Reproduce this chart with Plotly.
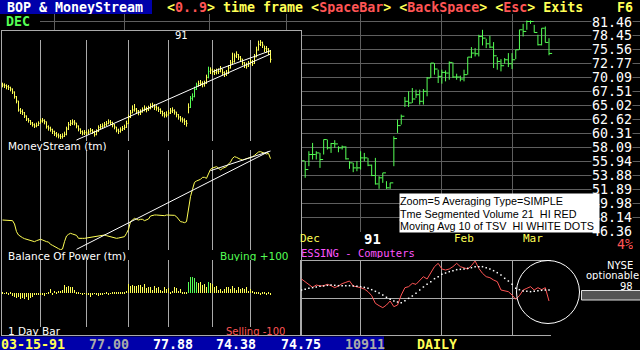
import math
import pandas as pd
import plotly.graph_objects as go

W, H = 640, 350

# ---------------- calendar (trading days) ----------------
HOLIDAYS = ["1990-11-22", "1990-12-25", "1991-01-01", "1991-02-18"]
trade_days = [d for d in pd.bdate_range("1990-09-04", "1991-03-15")
              if d.strftime("%Y-%m-%d") not in HOLIDAYS]
N = len(trade_days)
day_idx = list(range(N))
month_starts = [i for i in day_idx if i == 0 or trade_days[i].month != trade_days[i - 1].month]
def month_start(y, m):
    return next(i for i in day_idx if trade_days[i].year == y and trade_days[i].month == m)

# ---------------- main price chart (Dec 7 1990 .. Mar 15 1991) ----------------
price_start = N - 68
price_high = [58.5, 55.94, 57.46, 58.76, 57.46, 57.20, 59.29, 59.29, 58.76, 59.19, 58.24, 58.35, 58.24,
              55.94, 55.69, 55.94, 57.46, 57.20, 56.44, 55.44, 56.44, 53.73, 54.21, 53.01, 52.77, 59.82,
              62.56, 63.41, 66.49, 67.51, 68.11, 67.81, 67.81, 67.93, 70.16, 72.84, 72.84, 71.55, 71.55,
              71.42, 73.16, 72.97, 70.78, 70.41, 71.55, 74.02, 76.03, 75.83, 78.60, 79.66, 77.76, 78.39,
              77.07, 74.02, 73.62, 73.82, 74.82, 74.82, 75.49, 79.66, 80.95, 81.68, 81.68, 80.73, 78.60,
              80.00, 80.37, 77.88]
price_low = [55.94, 53.50, 55.19, 56.19, 56.19, 54.94, 56.95, 57.72, 57.20, 57.98, 57.30, 57.72, 56.19,
             54.80, 54.31, 54.45, 54.70, 55.94, 55.19, 53.73, 52.53, 51.93, 52.77, 51.93, 51.93, 55.19,
             60.36, 61.73, 64.73, 64.73, 65.43, 66.31, 65.14, 65.14, 66.61, 69.97, 70.60, 69.03, 68.91,
             69.34, 69.65, 69.97, 69.65, 69.34, 69.34, 70.60, 73.82, 74.15, 74.15, 76.38, 75.83, 75.83,
             71.87, 71.55, 71.23, 72.71, 72.06, 71.68, 73.62, 75.49, 78.25, 79.66, 80.95, 79.09, 76.38,
             76.38, 77.00, 74.38]
price_close = [56.00, 54.70, 56.95, 56.95, 57.20, 56.19, 59.29, 57.98, 58.66, 58.60, 57.98, 58.13, 56.29,
               55.69, 54.94, 54.94, 56.44, 56.44, 55.34, 53.83, 52.62, 53.49, 54.21, 52.07, 52.77, 59.45,
               61.56, 63.13, 65.72, 65.43, 66.13, 66.90, 65.72, 67.51, 69.97, 72.84, 71.68, 70.28, 71.04,
               70.91, 72.97, 70.16, 70.16, 69.78, 70.60, 74.02, 74.82, 74.69, 78.25, 77.90, 76.72, 76.03,
               74.28, 73.16, 72.32, 73.49, 72.71, 73.49, 75.49, 79.66, 79.31, 81.46, 81.46, 79.09, 76.52,
               80.00, 77.00, 74.75]
price_levels = [81.46, 78.45, 75.56, 72.77, 70.09, 67.51, 65.02, 62.62, 60.31, 58.09, 55.94, 53.88,
                51.89, 49.98, 48.14, 46.36]

# ---------------- MoneyStream (whole period) ----------------
ms_close = [165, 163, 160, 158, 153, 144, 130, 117, 90, 86, 82, 72, 63, 59, 51, 46, 42, 44, 50, 57,
            59, 55, 40, 36, 32, 26, 19, 15, 12, 10, 11, 17, 33, 46, 50, 54, 51, 42, 33, 25,
            21, 22, 21, 24, 29, 25, 16, 25, 37, 40, 42, 46, 49, 54, 52, 46, 39, 30, 26, 30,
            34, 38, 49, 67, 81, 90, 93, 87, 82, 83, 90, 95, 91, 95, 101, 104, 99, 96, 92, 86,
            79, 75, 75, 81, 87, 89, 84, 76, 69, 63, 60, 56, 50, 98, 125, 130, 152, 165, 169, 170,
            168, 170, 188, 206, 210, 204, 203, 205, 206, 213, 202, 197, 200, 216, 231, 235, 252, 257, 249, 243,
            232, 224, 222, 228, 235, 230, 249, 270, 287, 293, 285, 274, 273, 266, 242]
ms_high = [172, 170, 167, 165, 160, 155, 146, 132, 118, 96, 92, 84, 74, 66, 60, 54, 50, 52, 56, 64,
           66, 62, 56, 44, 40, 34, 28, 24, 20, 18, 20, 25, 40, 54, 60, 62, 60, 52, 44, 35,
           29, 30, 28, 32, 36, 33, 28, 32, 44, 48, 50, 54, 57, 62, 60, 55, 48, 40, 34, 38,
           42, 46, 58, 76, 90, 104, 108, 96, 90, 92, 98, 104, 100, 103, 110, 112, 108, 104, 100, 95,
           88, 84, 86, 90, 96, 98, 92, 85, 78, 72, 68, 65, 60, 110, 132, 140, 160, 172, 178, 180,
           176, 178, 196, 220, 218, 214, 212, 214, 215, 222, 214, 206, 210, 225, 240, 262, 260, 266, 258, 252,
           244, 234, 232, 237, 244, 240, 258, 280, 298, 300, 295, 283, 282, 276, 270]
ms_low = [158, 156, 152, 150, 146, 138, 124, 110, 85, 78, 75, 66, 57, 52, 45, 40, 36, 38, 42, 49,
          52, 47, 34, 28, 25, 18, 12, 8, 5, 3, 4, 9, 14, 30, 42, 45, 44, 35, 26, 18,
          14, 15, 14, 16, 22, 18, 10, 14, 24, 33, 35, 39, 42, 47, 45, 38, 32, 23, 18, 22,
          27, 30, 36, 48, 66, 80, 85, 78, 74, 75, 82, 86, 83, 87, 92, 96, 90, 88, 84, 78,
          71, 67, 68, 73, 78, 81, 76, 68, 61, 55, 52, 45, 40, 80, 96, 118, 128, 150, 160, 162,
          158, 160, 168, 185, 198, 196, 195, 197, 198, 203, 194, 189, 192, 198, 214, 226, 232, 246, 240, 235,
          224, 216, 214, 219, 226, 222, 228, 248, 268, 282, 276, 264, 262, 255, 232]
ms_green_days = [94, 95, 96, 97, 103]
ms_trend_a = ([37, 134], [0, 258])
ms_trend_b = ([105, 134], [205, 268])

# ---------------- Balance of Power ----------------
bop = [90, 90, 90, 89, 89, 88, 78, 55, 45, 40, 37, 34, 32, 30, 28, 26, 25, 28, 31, 32,
       30, 27, 25, 24, 17, 14, 10, 8, 4, 1, 3, 25, 42, 47, 50, 48, 46, 44, 35, 34,
       35, 35, 36, 38, 38, 39, 40, 42, 42, 43, 45, 45, 43, 41, 40, 38, 36, 35, 36, 37,
       38, 40, 50, 62, 85, 90, 95, 92, 90, 92, 92, 88, 90, 93, 102, 104, 105, 105, 104, 103,
       102, 103, 105, 105, 105, 105, 104, 100, 92, 85, 84, 82, 85, 130, 160, 182, 203, 207, 209, 212,
       218, 218, 215, 228, 242, 246, 248, 250, 246, 240, 245, 248, 250, 258, 264, 275, 280, 278, 274, 272,
       270, 272, 274, 275, 278, 280, 284, 288, 294, 295, 292, 290, 288, 290, 274]
bop_trend_a = ([37, 133], [2, 295])
bop_trend_b = ([104, 134], [238, 297])

# ---------------- 1 Day Bar ----------------
day_bar = [3, -2, 3, -3, 2, -8, -10, -15, -12, -18, -15, -16, -12, -20, -14, -10, -5, -3, -6, -4,
           -3, -8, -2, 4, 12, -4, 6, 5, 8, 7, 10, 26, 20, 22, 19, 18, 10, 5, 3, -2,
           -3, -1, -4, -6, -10, -3, -2, -3, -8, -3, -4, -2, 2, -3, -1, 2, 3, 2, 3, 2,
           3, 4, 8, 28, 22, 25, 22, 22, 25, 24, 20, 28, 15, 20, 18, 10, 22, 15, 20, 10,
           8, 18, 12, 16, 5, 8, 20, 15, 6, 12, 4, 3, 2, 35, 48, 50, 45, 35, 30, 33,
           25, 28, 20, 35, 30, 28, 20, 22, 10, 12, 8, 14, 20, 18, 12, 22, 15, 10, 18, 12,
           16, 14, 20, 8, 12, 6, 4, 2, 5, -3, 4, 2, -4, 5, -5]
day_bar_green = [93, 94, 95, 96, 97, 103]

# ---------------- Time Segmented Volume (Dec 7 .. Mar 15) ----------------
tsv = [57, 49, 41, 32, 39, 36, 37, 41, 37, 31, 36, 43, 47, 51, 36, 34, 31, 27, 19, 7,
       -16, -23, -29, -21, -9, -26, -21, 9, 31, 34, 44, 41, 54, 64, 57, 74, 94, 104, 87, 84,
       87, 94, 104, 94, 91, 87, 97, 111, 89, 74, 64, 61, 54, 49, 24, 21, 19, 9, -4, 7,
       24, 29, 34, 24, 31, 25, 31, -9]
tsv_ma = [24, 26, 29, 31, 33, 35, 36, 38, 39, 38, 37, 37, 37, 37, 36, 35, 34, 32, 29, 25,
          20, 15, 9, 2, -4, -9, -12, -14, -8, -1, 6, 14, 24, 33, 41, 49, 58, 64, 71, 75,
          79, 82, 85, 86, 87, 89, 91, 94, 94, 94, 91, 87, 82, 76, 69, 59, 51, 41, 29, 25,
          21, 20, 19, 20, 22, 23, 24, 24]

# ---------------- colours ----------------
BLUE = "#0000AA"
YEL = "#FFFF55"
GRN = "#55FF55"
RED = "#FF5555"
MAG = "#FF55FF"
WHITE = "#FFFFFF"
LGRAY = "#AAAAAA"
GRID = "#5E5E5E"
MONO = "DejaVu Sans Mono"
SANS = "DejaVu Sans"

def px_x(p):
    return p / W

def px_y(p):
    return 1 - p / H

def hlc(xs, hi, lo, cl, tick):
    X, Y = [], []
    for x, h, l, c in zip(xs, hi, lo, cl):
        X += [x, x, None, x, x + tick, None]
        Y += [l, h, None, c, c, None]
    return X, Y

fig = go.Figure()

# main price bars
px_days = day_idx[price_start:]
X, Y = hlc(px_days, price_high, price_low, price_close, 0.85)
fig.add_trace(go.Scatter(x=X, y=Y, mode="lines", line=dict(color=GRN, width=1),
                         xaxis="x", yaxis="y", hoverinfo="skip"))

# panel box (empty subplot)
fig.add_trace(go.Scatter(x=[None], y=[None], xaxis="x2", yaxis="y2", hoverinfo="skip"))

# MoneyStream bars
yel_days = [i for i in day_idx if i not in ms_green_days]
grn_days = [i for i in day_idx if i in ms_green_days]
for days, col in ((yel_days, YEL), (grn_days, GRN)):
    X, Y = hlc(days, [ms_high[i] for i in days], [ms_low[i] for i in days],
               [ms_close[i] for i in days], 0.5)
    fig.add_trace(go.Scatter(x=X, y=Y, mode="lines", line=dict(color=col, width=1),
                             xaxis="x3", yaxis="y3", hoverinfo="skip"))
for tx, ty in (ms_trend_a, ms_trend_b):
    fig.add_trace(go.Scatter(x=tx, y=ty, mode="lines", line=dict(color=WHITE, width=1),
                             xaxis="x3", yaxis="y3", hoverinfo="skip"))

# BOP
fig.add_trace(go.Scatter(x=day_idx, y=bop, mode="lines", line=dict(color=YEL, width=1),
                         xaxis="x3", yaxis="y4", hoverinfo="skip"))
for tx, ty in (bop_trend_a, bop_trend_b):
    fig.add_trace(go.Scatter(x=tx, y=ty, mode="lines", line=dict(color=WHITE, width=1),
                             xaxis="x3", yaxis="y4", hoverinfo="skip"))

# 1 day bar histogram
fig.add_trace(go.Bar(x=day_idx, y=day_bar, width=0.5,
                     marker=dict(color=[GRN if i in day_bar_green else YEL for i in day_idx],
                                 line=dict(width=0)),
                     xaxis="x3", yaxis="y5", hoverinfo="skip"))

# TSV + moving average
fig.add_trace(go.Scatter(x=px_days, y=tsv, mode="lines", line=dict(color=RED, width=1),
                         xaxis="x4", yaxis="y6", hoverinfo="skip"))
fig.add_trace(go.Scatter(x=px_days, y=tsv_ma, mode="markers",
                         marker=dict(color=WHITE, size=1.5, symbol="square", line=dict(width=0)),
                         xaxis="x4", yaxis="y6", hoverinfo="skip"))

# ---------------- axes ----------------
MAIN_SLOPE, MAIN_X0 = 3.694, 54.0
PANEL_L, PANEL_R = 2, 301
PANEL_SLOPE, PANEL_X0 = 2.0, 2.5
lt, lb = math.log10(price_levels[0]), math.log10(price_levels[-1])
ppl = (231 - 21.5) / (lt - lb)
main_yrange = [lb - (232 - 231) / ppl, lt + (21.5 - 14) / ppl]

common = dict(showticklabels=False, zeroline=False, ticks="", fixedrange=True)
fig.update_layout(
    width=W, height=H, margin=dict(l=0, r=0, t=0, b=0),
    paper_bgcolor="black", plot_bgcolor="black", showlegend=False, bargap=0,
    xaxis=dict(domain=[px_x(40), 1], range=[(40 - MAIN_X0) / MAIN_SLOPE, (640 - MAIN_X0) / MAIN_SLOPE],
               tickmode="array", tickvals=month_starts, showgrid=True, gridcolor=GRID, gridwidth=1,
               anchor="y", **common),
    yaxis=dict(domain=[px_y(232), px_y(14)], type="log", range=main_yrange,
               tickmode="array", tickvals=price_levels, showgrid=True, gridcolor=GRID,
               anchor="x", **common),
    xaxis2=dict(domain=[px_x(PANEL_L), px_x(PANEL_R)], range=[0, 1], showgrid=False,
                showline=True, mirror=True, linecolor=LGRAY, linewidth=1, anchor="y2", **common),
    yaxis2=dict(domain=[px_y(335), px_y(31)], range=[0, 1], showgrid=False,
                showline=True, mirror=True, linecolor=LGRAY, linewidth=1, anchor="x2", **common),
    xaxis3=dict(domain=[px_x(PANEL_L), px_x(PANEL_R)],
                range=[(PANEL_L - PANEL_X0) / PANEL_SLOPE, (PANEL_R - PANEL_X0) / PANEL_SLOPE],
                tickmode="array", tickvals=month_starts[1:], showgrid=True, gridcolor=LGRAY,
                anchor="y3", **common),
    yaxis3=dict(domain=[px_y(141), px_y(40)], range=[-3, 300], showgrid=False, anchor="x3", **common),
    yaxis4=dict(domain=[px_y(250), px_y(150)], range=[0, 300], showgrid=False, anchor="x3", **common),
    yaxis5=dict(domain=[px_y(327), px_y(260)], range=[-101, 100], showgrid=False, anchor="x3", **common),
    xaxis4=dict(domain=[px_x(301), px_x(551)],
                range=[(301 - MAIN_X0) / MAIN_SLOPE, (551 - MAIN_X0) / MAIN_SLOPE],
                tickmode="array", tickvals=[month_start(1991, 1), month_start(1991, 2), month_start(1991, 3)],
                showgrid=True, gridcolor=LGRAY, showline=True, mirror=True, linecolor=LGRAY,
                anchor="y6", **common),
    yaxis6=dict(domain=[px_y(335), px_y(261)], range=[-111, 111], tickmode="array", tickvals=[0],
                showgrid=True, gridcolor=LGRAY, showline=True, linecolor=LGRAY, anchor="x4", **common),
)

# ---------------- shapes ----------------
cx = (548 - MAIN_X0) / MAIN_SLOPE
fig.add_shape(type="circle", xref="x4", yref="y6", x0=cx - 31.5 / MAIN_SLOPE, x1=cx + 31.5 / MAIN_SLOPE,
              y0=18 - 94.5, y1=18 + 94.5, fillcolor="black", line=dict(width=0), layer="between")
fig.add_shape(type="circle", xref="paper", yref="paper", x0=px_x(516.5), x1=px_x(579.5),
              y0=px_y(323.5), y1=px_y(260.5), line=dict(color=WHITE, width=1), layer="above")
fig.add_shape(type="rect", xref="paper", yref="paper", x0=0, x1=px_x(152), y0=px_y(14), y1=1,
              fillcolor=BLUE, line=dict(width=0), layer="above")
fig.add_shape(type="rect", xref="paper", yref="paper", x0=0, x1=px_x(384), y0=0, y1=px_y(336.5),
              fillcolor=BLUE, line=dict(width=0), layer="above")
fig.add_shape(type="rect", xref="paper", yref="paper", x0=px_x(581.5), x1=px_x(640.5),
              y0=px_y(300), y1=px_y(290.5), fillcolor="#555555", line=dict(color="#E0E0E0", width=1),
              layer="above")

# ---------------- text ----------------
ann = []
def text(x, y, s, color=WHITE, size=13.3, family=MONO, xanchor="left", **kw):
    d = dict(xref="paper", yref="paper", x=px_x(x), y=px_y(y), text=s, showarrow=False,
             xanchor=xanchor, yanchor="middle", font=dict(color=color, size=size, family=family),
             borderpad=0)
    d.update(kw)
    ann.append(d)

NB = "\u00a0"
def sp(c, s):
    return f'<span style="color:{c}">{s}</span>'

text(6, 7, "<b>BOP" + NB + "&amp;" + NB + "MoneyStream</b>", WHITE, height=13)
top = (sp(YEL, "&lt;") + sp(RED, "0..9") + sp(YEL, "&gt;" + NB + "time" + NB + "frame" + NB + "&lt;")
       + sp(RED, "SpaceBar") + sp(YEL, "&gt;" + NB + "&lt;") + sp(RED, "BackSpace")
       + sp(YEL, "&gt;" + NB + "&lt;") + sp(RED, "Esc") + sp(YEL, "&gt;" + NB + "Exits"))
text(166, 7, "<b>" + top + "</b>", YEL, height=13)
text(634, 6.5, "<b>F6</b>", YEL, xanchor="right", height=12)
text(5, 22, "<b>DEC</b>", GRN, height=13)

# price labels
for v in price_levels:
    ann.append(dict(xref="paper", yref="y", x=px_x(633), y=math.log10(v), text=f"{v:.2f}",
                    showarrow=False, xanchor="right", yanchor="middle", bgcolor="black", borderpad=0,
                    height=12, font=dict(color=WHITE, size=13.3, family=MONO)))
text(634, 243.5, "4%", RED, xanchor="right", height=12)

# date labels
for lab, (yy, mm), sh, col, fnt in (("Dec", (1990, 12), 12, YEL, 11), ("<b>91</b>", (1991, 1), 2, WHITE, 14),
                                    ("Feb", (1991, 2), 11, YEL, 11), ("Mar", (1991, 3), 10, YEL, 11)):
    ann.append(dict(xref="x", yref="paper", x=month_start(yy, mm), y=px_y(238), text=lab, showarrow=False,
                    xanchor="left", yanchor="middle", xshift=sh, borderpad=0, height=13,
                    font=dict(color=col, size=fnt, family=MONO)))
text(300, 252, "ESSING" + NB + "-" + NB + "Computers", MAG, size=10.5, height=11)

# left panel labels
text(181, 35.5, "91", WHITE, size=10, family=SANS, xanchor="center", height=11)
text(7, 145.5, "MoneyStream (tm)", WHITE, size=10.5, family=SANS, height=11)
text(7, 255.5, "Balance Of Power (tm)", WHITE, size=10.5, family=SANS, height=11)
text(290, 255.5, "Buying +100", GRN, size=10.5, family=SANS, xanchor="right", height=11)
text(7, 331, "1 Day Bar", WHITE, size=10.5, family=SANS, height=10)
text(286, 331, "Selling -100", RED, size=10, family=SANS, xanchor="right", height=10)

# NYSE block
text(634, 265, "NYSE", WHITE, size=10, family=SANS, xanchor="right", height=9)
text(640, 275.5, "optionable", WHITE, size=10, family=SANS, xanchor="right", height=9)
text(634, 285.5, "98", WHITE, size=10, family=SANS, xanchor="right", height=8)

# status bar
status = [("03-15-91", 0, YEL), ("77.00", 88, LGRAY), ("77.88", 152, WHITE), ("74.38", 215, WHITE),
          ("74.75", 280, WHITE), ("10911", 344, LGRAY), ("DAILY", 416, YEL)]
for s, x, c in status:
    text(x, 343.5, "<b>" + s + "</b>", c, height=12)

# info box
info_lines = ["Zoom=5 Averaging Type=SIMPLE",
              "Tme Segmented Volume 21" + NB + NB + "HI RED",
              "Moving Avg 10 of TSV" + NB + NB + "HI WHITE DOTS"]
box_top = 192.5
for k, line in enumerate(info_lines):
    h = 13 if k < 2 else 12
    ann.append(dict(xref="paper", yref="paper", x=px_x(399), y=px_y(box_top), text=line, showarrow=False,
                    xanchor="left", yanchor="top", align="left", width=199, height=h,
                    bgcolor=WHITE, borderpad=0, valign="middle",
                    font=dict(color="black", size=10.8, family="Liberation Sans")))
    box_top += h

fig.update_layout(annotations=ann)
fig.write_html("out.html")
